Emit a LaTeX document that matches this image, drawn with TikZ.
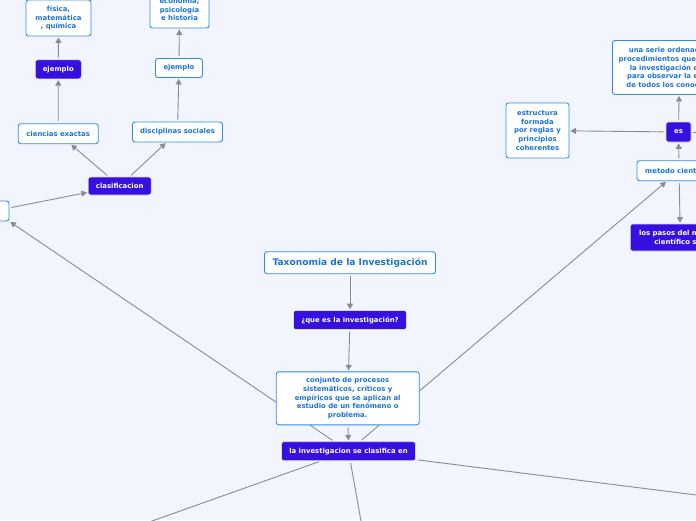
\documentclass[tikz,border=0pt]{standalone}
\usepackage{fontspec}
\setmainfont{DejaVu Sans}
\usetikzlibrary{arrows.meta}
\definecolor{canvas}{HTML}{F2F5FE}
\definecolor{mapPurple}{HTML}{3510E0}
\definecolor{mapBlue}{HTML}{2D8CEB}
\definecolor{mapText}{HTML}{1B74D4}
\definecolor{mapLine}{HTML}{8A8A92}
\pgfdeclarelayer{bg}
\pgfdeclarelayer{edges}
\pgfsetlayers{bg,edges,main}

\begin{document}
\begin{tikzpicture}[x=1pt,y=-1pt,>={Triangle[length=5.5pt,width=6pt]},font=\fontsize{6.9}{8.7}\selectfont\bfseries]
      \tikzset{box/.style={draw=mapBlue, line width=0.9pt, fill=white, text=mapText, rounded corners=2.5pt, inner sep=1pt, align=center},
        dark/.style={draw=black!15, line width=0.6pt, fill=mapPurple, text=white, rounded corners=2.5pt, inner sep=1pt, align=center},
        link/.style={draw=mapLine, line width=0.9pt, shorten <=2pt, shorten >=1pt}}
      \useasboundingbox (0,0) rectangle (696,520);
      \begin{pgfonlayer}{bg}
        \fill[canvas] (0,0) rectangle (696,520);
      \end{pgfonlayer}

      \node[box, font=\fontsize{9.1}{11}\selectfont\bfseries, minimum width=171pt, minimum height=22pt] (title) at (350,262.7) {Taxonomia de la Investigación};
      \node[dark, minimum width=113pt, minimum height=19pt] (queEs) at (350,320) {¿que es la investigación?};
      \node[box, minimum width=143pt, minimum height=53pt] (conjunto) at (347.7,398.3) {conjunto de procesos\\sistemáticos, críticos y\\empíricos que se aplican al\\estudio de un fenómeno o\\problema.};
      \node[dark, minimum width=134pt, minimum height=19pt] (clasificaEn) at (348.5,451.2) {la investigacion se clasifica en};

      \node[box, minimum width=30pt, minimum height=20pt] (tipo) at (-6,211) {};
      \node[dark, minimum width=63pt, minimum height=18pt] (clasif) at (119.7,186) {clasificacion};
      \node[box, minimum width=80pt, minimum height=20pt] (exactas) at (58.2,133.7) {ciencias exactas};
      \node[box, minimum width=90pt, minimum height=20pt] (sociales) at (177.5,132) {disciplinas sociales};
      \node[dark, minimum width=46pt, minimum height=19pt] (ejemploA) at (58.3,69.3) {ejemplo};
      \node[box, minimum width=47pt, minimum height=19pt] (ejemploB) at (179,68) {ejemplo};
      \node[box, minimum width=65pt, minimum height=36pt] (fisica) at (58.5,18) {física,\\matemática\\, química};
      \node[box, minimum width=59pt, minimum height=37pt] (economia) at (179.5,9.5) {economía,\\psicología\\e historia};

      \node[box, minimum width=84pt, minimum height=20pt] (metodo) at (679,170.7) {metodo cientifico};
      \node[dark, minimum width=25pt, minimum height=20pt] (es) at (678.5,132) {es};
      \node[box, minimum width=63pt, minimum height=55pt] (estructura) at (537.5,130.5) {estructura\\formada\\por reglas y\\principios\\coherentes};
      \node[box, minimum width=134pt, minimum height=54pt, anchor=west] (serie) at (612,67.5) {una serie ordenada de los\\procedimientos que se usan en\\la investigación científica\\para observar la extensión\\de todos los conocimientos};
      \node[dark, minimum width=100pt, minimum height=27pt, anchor=west] (pasos) at (630,237.5) {los pasos del método\\científico son};

      \coordinate (abajoIzq) at (0,575);
      \coordinate (abajo) at (368,560);
      \coordinate (derecha) at (760,503);
      \coordinate (esFuera) at (740,132);

      \begin{pgfonlayer}{edges}
        \draw[link,->] (title) -- (queEs);
        \draw[link,->] (queEs) -- (conjunto);
        \draw[link,->] (conjunto) -- (clasificaEn);
        \draw[link,->] (clasificaEn) -- (tipo);
        \draw[link,->] (clasificaEn) -- (metodo);
        \draw[link] (clasificaEn) -- (abajoIzq);
        \draw[link] (clasificaEn) -- (abajo);
        \draw[link] (clasificaEn) -- (derecha);

        \draw[link,->] (tipo) -- (clasif);
        \draw[link,->] (clasif) -- (exactas);
        \draw[link,->] (clasif) -- (sociales);
        \draw[link,->] (exactas) -- (ejemploA);
        \draw[link,->] (ejemploA) -- (fisica);
        \draw[link,->] (sociales) -- (ejemploB);
        \draw[link,->] (ejemploB) -- (economia);

        \draw[link,->] (metodo) -- (es);
        \draw[link,->] (metodo) -- (pasos);
        \draw[link,->] (es) -- (estructura);
        \draw[link,->] (es) -- (serie);
        \draw[link] (es) -- (esFuera);
      \end{pgfonlayer}
    \end{tikzpicture}
\end{document}
